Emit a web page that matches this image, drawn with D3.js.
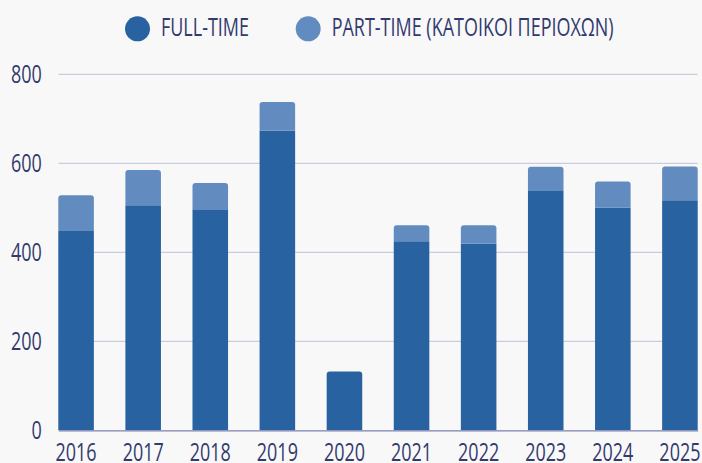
<!DOCTYPE html>
<html>
<head>
<meta charset="utf-8">
<script src="https://cdn.jsdelivr.net/npm/d3@7"></script>
<style>
  html, body { margin: 0; padding: 0; background: #f8f8f8; }
  #chart { width: 702px; height: 463px; }
  text { font-family: "Open Sans", sans-serif; font-weight: 500; fill: #323a6e; }
</style>
</head>
<body>
<div id="chart"></div>
<script>
// data
const years = ["2016", "2017", "2018", "2019", "2020", "2021", "2022", "2023", "2024", "2025"];
const fullTime = [448, 506, 495, 673, 132, 425, 419, 538, 500, 517];
const partTime = [80, 79, 61, 65, 0, 36, 42, 54, 59, 76];
const seriesNames = ["FULL-TIME", "PART-TIME (ΚΑΤΟΙΚΟΙ ΠΕΡΙΟΧΩΝ)"];
const yTicks = [0, 200, 400, 600, 800];

const colors = ["#2862a0", "#628cbf"];

const width = 702, height = 463;
const margin = { top: 74.3, right: 4.3, bottom: 32.7, left: 58.3 };
const innerWidth = width - margin.left - margin.right;
const innerHeight = height - margin.top - margin.bottom;

const svg = d3.select("#chart").append("svg")
    .attr("width", width)
    .attr("height", height);

// the original uses a condensed face; squeeze Open Sans to about the same width
const probe = svg.append("text").style("font-size", "25px").text("FULL-TIME");
const squeeze = 88 / probe.node().getComputedTextLength();
probe.remove();

const g = svg.append("g")
    .attr("transform", `translate(${margin.left},${margin.top})`);

const x = d3.scaleBand()
    .domain(years)
    .range([0, innerWidth])
    .paddingInner(0.47)
    .paddingOuter(0);

const y = d3.scaleLinear()
    .domain([0, 800])
    .range([innerHeight, 0]);

// gridlines
g.selectAll(".grid")
    .data(yTicks.filter(d => d > 0))
    .join("line")
    .attr("class", "grid")
    .attr("x1", 0)
    .attr("x2", innerWidth)
    .attr("y1", d => y(d))
    .attr("y2", d => y(d))
    .attr("stroke", "#cbcbdf")
    .attr("stroke-width", 1.2);

// y axis labels
const yAxis = g.append("g")
    .call(d3.axisLeft(y).tickValues(yTicks).tickSize(0).tickPadding(0));
yAxis.select(".domain").remove();
yAxis.selectAll("text")
    .attr("x", -16.6 / squeeze)
    .attr("dy", "0.32em")
    .attr("transform", `scale(${squeeze},1)`)
    .style("font-size", "25px")
    .style("font-family", "Open Sans")
    .attr("fill", "#323a6e");

// stacked bars
const stack = d3.stack().keys([0, 1])(years.map((yr, i) => [fullTime[i], partTime[i]]));

function topRounded(x0, y0, w, h, r) {
    r = Math.min(r, h, w / 2);
    return `M${x0},${y0 + h}V${y0 + r}Q${x0},${y0} ${x0 + r},${y0}` +
        `H${x0 + w - r}Q${x0 + w},${y0} ${x0 + w},${y0 + r}V${y0 + h}Z`;
}

stack.forEach((layer, k) => {
    g.append("g")
        .selectAll("path")
        .data(layer)
        .join("path")
        .attr("fill", colors[k])
        .attr("d", (d, i) => {
            const h = y(d[0]) - y(d[1]);
            if (h <= 0) return null;
            const isTop = k === 1 || partTime[i] === 0;
            return topRounded(x(years[i]), y(d[1]), x.bandwidth(), h, isTop ? 3 : 0);
        });
});

// x axis
const xAxis = g.append("g")
    .attr("transform", `translate(0,${innerHeight})`)
    .call(d3.axisBottom(x).tickSize(0).tickPadding(13));
xAxis.select(".domain")
    .attr("stroke", "#7d82ad")
    .attr("stroke-width", 1.2);
xAxis.selectAll("text")
    .attr("transform", `scale(${squeeze},1)`)
    .style("font-size", "25px")
    .style("font-family", "Open Sans")
    .attr("fill", "#323a6e");

// legend
const legend = svg.append("g").attr("transform", "translate(125,0)");
let lx = 0;
seriesNames.forEach((name, i) => {
    const item = legend.append("g").attr("transform", `translate(${lx},0)`);
    item.append("circle")
        .attr("cx", 12.5)
        .attr("cy", 28.8)
        .attr("r", 12.5)
        .attr("fill", colors[i]);
    const t = item.append("text")
        .attr("transform", `translate(36,36) scale(${squeeze},1)`)
        .style("font-size", "25px")
        .text(name);
    const w = t.node().getComputedTextLength() * squeeze;
    lx += 36 + w + 46.7;
});
</script>
</body>
</html>
